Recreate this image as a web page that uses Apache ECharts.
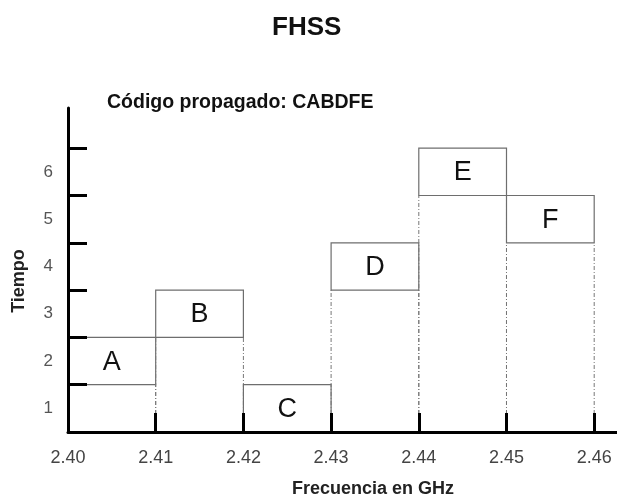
<!DOCTYPE html>
<html>
<head>
<meta charset="utf-8">
<script src="https://cdn.jsdelivr.net/npm/echarts@6/dist/echarts.min.js"></script>
<style>
  html, body { margin: 0; padding: 0; background: #fff; }
  #chart { width: 617px; height: 497px; }
</style>
</head>
<body>
<div id="chart"></div>
<script>
// canales de salto (GHz) y ranura de tiempo de cada uno
var canales = ['A', 'B', 'C', 'D', 'E', 'F'];
var freqIni = [2.40, 2.41, 2.42, 2.43, 2.44, 2.45];
var freqFin = [2.41, 2.42, 2.43, 2.44, 2.45, 2.46];
var ranura = [2, 3, 1, 4, 6, 5];   // tiempo en que se usa cada canal

var ticksX = [2.40, 2.41, 2.42, 2.43, 2.44, 2.45, 2.46];
var ticksY = [1, 2, 3, 4, 5, 6];
var etiquetasY = [0.5, 1.5, 2.5, 3.5, 4.5, 5.5]; // numeros centrados en cada ranura

var datos = [];
for (var i = 0; i < canales.length; i++) {
    datos.push([freqIni[i], freqFin[i], ranura[i] - 1, ranura[i]]);
}

function dibujarCanal(params, api) {
    var x0 = api.value(0), x1 = api.value(1)
    var y0 = api.value(2), y1 = api.value(3)
    var pa = api.coord([x0, y1])
    var pb = api.coord([x1, y0])
    var base = api.coord([x0, 0])[1]
    var hijos = []
    if (y0 > 0) {//lineas punteadas hasta el eje
        [pa[0], pb[0]].forEach(function (x) {
            hijos.push({
                type: 'line',
                shape: {x1: x, y1: base, x2: x, y2: pb[1]},
                style: {stroke: '#777', lineWidth: 1, lineDash: [4, 2, 1, 2]}
            })
        })
    }
    hijos.push({
        type: 'rect',
        shape: {x: pa[0], y: pa[1], width: pb[0] - pa[0], height: pb[1] - pa[1]},
        style: {fill: '#fff', stroke: '#6e6e6e', lineWidth: 1.2}
    })
    hijos.push({
        type: 'text',
        style: {
            text: canales[params.dataIndex],
            x: (pa[0] + pb[0]) / 2,
            y: (pa[1] + pb[1]) / 2 + 1,
            align: 'center',
            verticalAlign: 'middle',
            font: 'normal 27px "Liberation Sans"',
            fill: '#111'
        }
    })
    return {type: 'group', children: hijos}
}

var option = {
    backgroundColor: '#fff',
    animation: false,
    textStyle: {fontFamily: '"Liberation Sans", Arial, sans-serif'},
    title: {
        text: 'FHSS',
        left: 267,
        top: 10,
        textStyle: {fontSize: 26, fontWeight: 'bold', color: '#111'}
    },
    graphic: [
        {
            type: 'text',
            left: 107,
            top: 93,
            style: {
                text: 'Código propagado: CABDFE',
                font: 'bold 19.5px "Liberation Sans"',
                fill: '#111'
            }
        }
    ],
    grid: {left: 68, right: 0, top: 108, bottom: 65, outerBoundsMode: 'none'},
    xAxis: {
        type: 'value',
        min: 2.40,
        max: 2.4626,
        name: 'Frecuencia en GHz',
        nameLocation: 'middle',
        nameGap: 48,
        nameTextStyle: {fontSize: 18, fontWeight: 'bold', color: '#222', padding: [0, 0, 0, 61]},
        axisLine: {show: true, lineStyle: {color: '#000', width: 3}},
        axisTick: {show: true, inside: true, length: 19, customValues: ticksX, lineStyle: {color: '#000', width: 3}},
        axisLabel: {
            customValues: ticksX,
            formatter: function (v) { return v.toFixed(2) },
            fontSize: 18,
            color: '#444',
            margin: 17
        },
        splitLine: {show: false}
    },
    yAxis: {
        type: 'value',
        min: 0,
        max: 6.85,
        name: 'Tiempo',
        nameLocation: 'middle',
        nameRotate: 90,
        nameGap: 40,
        nameTextStyle: {fontSize: 18, fontWeight: 'bold', color: '#222', padding: [0, 22, 0, 0]},
        axisLine: {show: true, lineStyle: {color: '#000', width: 3}},
        axisTick: {show: true, inside: true, length: 19, customValues: ticksY, lineStyle: {color: '#000', width: 3}},
        axisLabel: {
            customValues: etiquetasY,
            formatter: function (v) { return String(Math.round(v + 0.5)) },
            fontSize: 17,
            color: '#555',
            margin: 15
        },
        splitLine: {show: false}
    },
    series: [
        {
            type: 'custom',
            z: -1,
            renderItem: dibujarCanal,
            encode: {x: [0, 1], y: [2, 3]},
            data: datos
        }
    ]
};

var chart = echarts.init(document.getElementById('chart'));
chart.setOption(option);
</script>
</body>
</html>
